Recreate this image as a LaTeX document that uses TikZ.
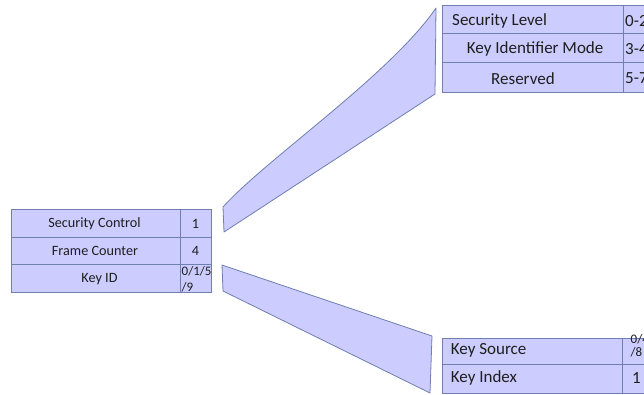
\documentclass[tikz,border=0pt]{standalone}
\usepackage{fontspec}
\setmainfont{Carlito}
\definecolor{cellfill}{HTML}{CCCCFF}
\definecolor{cellline}{HTML}{6E7FB0}
\definecolor{txt}{HTML}{1E1E1E}
\begin{document}
\begin{tikzpicture}[x=1pt,y=-1pt,
  cell/.style={draw=cellline,fill=cellfill,line width=0.9pt,inner sep=0pt,anchor=north west},
  funnel/.style={draw=cellline,fill=cellfill,line width=0.8pt,line join=round},
  lbl/.style={text=txt,inner sep=0pt,font=\fontsize{14.2}{16}\selectfont},
  big/.style={text=txt,inner sep=0pt,anchor=west,font=\fontsize{17}{20}\selectfont},
  small/.style={text=txt,inner sep=0pt,anchor=west,align=left}]
\useasboundingbox (0,0) rectangle (644,394);
\clip (0,0) rectangle (644,394);

% funnels
\draw[funnel] (223,207) .. controls (265,160) and (390,75) .. (436,8)
  -- (435,94) -- (224,232) -- cycle;
\draw[funnel] (222,265) -- (432,336) -- (430,393) -- (223,291) -- cycle;

% left table
\node[cell,minimum width=169pt,minimum height=27.7pt] (sc) at (11,209) {};
\node[cell,minimum width=31pt,minimum height=27.7pt] (scv) at (180,209) {};
\node[cell,minimum width=169pt,minimum height=27.6pt] (fc) at (11,236.7) {};
\node[cell,minimum width=31pt,minimum height=27.6pt] (fcv) at (180,236.7) {};
\node[cell,minimum width=169pt,minimum height=27.4pt] (kid) at (11,264.3) {};
\node[cell,minimum width=31pt,minimum height=27.4pt] (kidv) at (180,264.3) {};
\node[lbl] (t1) at (94.5,223.5) {Security Control};
\node[lbl] (t2) at (195.5,223.5) {1};
\node[lbl] (t3) at (95,251) {Frame Counter};
\node[lbl] (t4) at (195.5,251) {4};
\node[lbl] (t5) at (99.5,279.5) {Key ID};
\node[small,font=\fontsize{13}{15.6}\selectfont] (t6) at (181.5,279.5) {0/1/5\\/9};

% top right table
\node[cell,minimum width=181.6pt,minimum height=28.3pt] (sl) at (441.7,5) {};
\node[cell,minimum width=40pt,minimum height=28.3pt] (slv) at (623.3,5) {};
\node[cell,minimum width=181.6pt,minimum height=28.4pt] (kim) at (441.7,33.3) {};
\node[cell,minimum width=40pt,minimum height=28.4pt] (kimv) at (623.3,33.3) {};
\node[cell,minimum width=181.6pt,minimum height=30.6pt] (res) at (441.7,61.7) {};
\node[cell,minimum width=40pt,minimum height=30.6pt] (resv) at (623.3,61.7) {};
\node[big] (u1) at (452,20.7) {Security Level};
\node[big] (u2) at (625,21.2) {0-2};
\node[big] (u3) at (466.7,49.3) {Key Identifier Mode};
\node[big] (u4) at (625,49.5) {3-4};
\node[big] (u5) at (491,78.3) {Reserved};
\node[big] (u6) at (625,78) {5-7};

% bottom right table
\node[cell,minimum width=180pt,minimum height=26.3pt] (ks) at (441.7,337.7) {};
\node[cell,minimum width=40pt,minimum height=26.3pt] (ksv) at (621.7,337.7) {};
\node[cell,minimum width=180pt,minimum height=28.7pt] (ki) at (441.7,364) {};
\node[cell,minimum width=40pt,minimum height=28.7pt] (kiv) at (621.7,364) {};
\node[big] (w1) at (450.7,350) {Key Source};
\node[small,font=\fontsize{13}{12.5}\selectfont] (w2) at (630.5,346) {0/4\\/8};
\node[big] (w3) at (450.7,378.3) {Key Index};
\node[big] (w4) at (632,378.3) {1};
\end{tikzpicture}
\end{document}
